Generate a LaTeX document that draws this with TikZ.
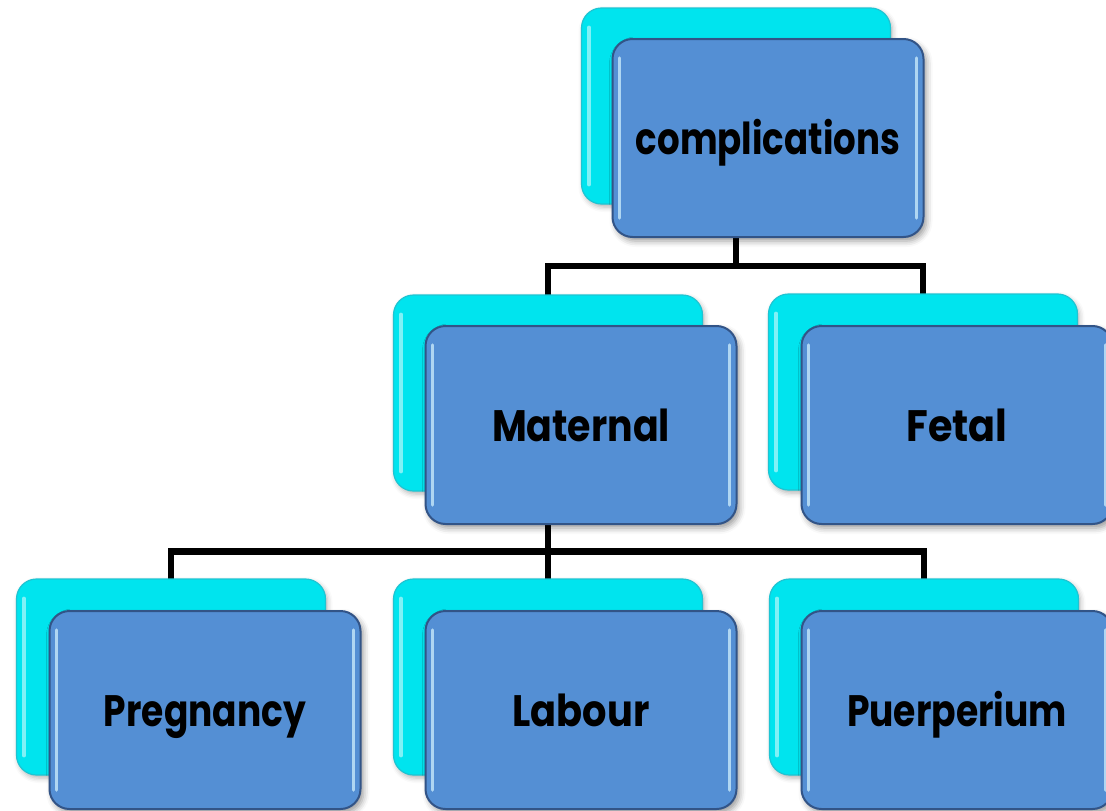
\documentclass[tikz,border=0pt]{standalone}
\usepackage{fontspec}
\setmainfont{Poppins}
\usetikzlibrary{calc,shadows.blur}
\pgfdeclarelayer{background}
\pgfsetlayers{background,main}

\definecolor{cyanbox}{RGB}{0,228,238}
\definecolor{cyanedge}{RGB}{30,196,210}
\definecolor{bluebox}{RGB}{84,143,212}
\definecolor{blueedge}{RGB}{50,84,135}
\definecolor{glint}{RGB}{215,245,255}

% label scaled to a given width, height unchanged
\newcommand\lbl[2]{\resizebox{#1pt}{\height}{\bfseries #2}}

\tikzset{
  backbox/.style={draw=cyanedge, line width=1.2pt, fill=cyanbox,
    rounded corners=20pt, minimum width=309pt, minimum height=196pt,
    blur shadow={shadow xshift=2pt, shadow yshift=-3pt,
      shadow blur radius=5pt, shadow opacity=30}},
  frontbox/.style={draw=blueedge, line width=2pt, fill=bluebox,
    rounded corners=20pt, minimum width=311pt, minimum height=198pt,
    inner sep=0pt, text height=32pt, text depth=0pt,
    font=\fontsize{44}{48}\selectfont,
    blur shadow={shadow xshift=3pt, shadow yshift=-4pt,
      shadow blur radius=6pt, shadow opacity=40}},
  gloss/.style={glint, opacity=0.7, line width=3.5pt, line cap=round},
  cgloss/.style={white, opacity=0.5, line width=3.5pt, line cap=round},
  link/.style={line width=6.5pt, black}
}

% glossy edge strips of a front box
\newcommand\shine[1]{%
  \draw[gloss] ([xshift=8pt,yshift=-20pt]#1.north west) -- ([xshift=8pt,yshift=20pt]#1.south west);
  \draw[gloss] ([xshift=-8pt,yshift=-20pt]#1.north east) -- ([xshift=-8pt,yshift=20pt]#1.south east);
}
% glossy edge strip of a back box
\newcommand\cshine[1]{%
  \draw[cgloss] ([xshift=8pt,yshift=-20pt]#1.north west) -- ([xshift=8pt,yshift=20pt]#1.south west);
}

\begin{document}
\begin{tikzpicture}[x=1pt,y=-1pt]
\useasboundingbox (0,0) rectangle (1106,811);
\clip (0,0) rectangle (1106,811);

% back (cyan) boxes
\node[backbox] (tb) at (736,106) {};
\node[backbox] (mb) at (548,393) {};
\node[backbox] (fb) at (923,392) {};
\node[backbox] (pb) at (171,677) {};
\node[backbox] (lb) at (548,677) {};
\node[backbox] (qb) at (924,677) {};
\foreach \n in {tb,mb,fb,pb,lb,qb}{\cshine{\n}}

% front (blue) boxes
\node[frontbox] (tf) at ($(tb)+(32,32)$) {\lbl{264}{complications}};
\node[frontbox] (mf) at ($(mb)+(33,32)$) {\lbl{178}{Maternal}};
\node[frontbox] (ff) at ($(fb)+(34,33)$) {\lbl{101}{Fetal}};
\node[frontbox] (pf) at ($(pb)+(34,33)$) {\lbl{202}{Pregnancy}};
\node[frontbox] (lf) at ($(lb)+(33,33)$) {\lbl{137}{Labour}};
\node[frontbox] (qf) at ($(qb)+(33,33)$) {\lbl{220}{Puerperium}};
\foreach \n in {tf,mf,ff,pf,lf,qf}{\shine{\n}}

% connectors behind the boxes
\begin{pgfonlayer}{background}
  \coordinate (j1) at ($(tf.south)!0.5!(mb.north)$);
  \coordinate (j2) at ($(mf.south)!0.5!(lb.north)$);
  \draw[link] (tb.center) -- (tb.center |- j1) -| (mb.center);
  \draw[link] (tb.center |- j1) -| (fb.center);
  \draw[link] (mb.center) -- (mb.center |- j2) -| (pb.center);
  \draw[link] (mb.center |- j2) -| (qb.center);
  \draw[link] (mb.center |- j2) -- (lb.center);
\end{pgfonlayer}
\end{tikzpicture}
\end{document}
